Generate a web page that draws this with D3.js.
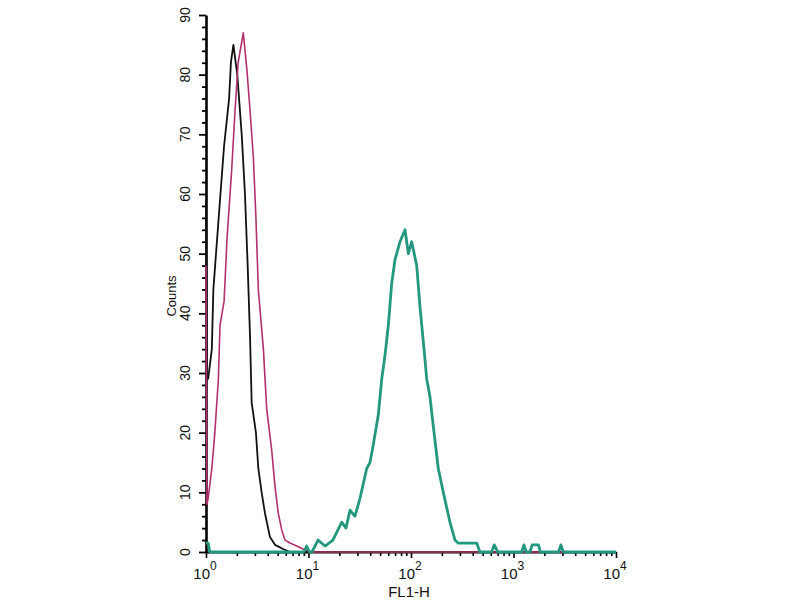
<!DOCTYPE html>
<html>
<head>
<meta charset="utf-8">
<script src="https://cdn.jsdelivr.net/npm/d3@7"></script>
<style>
  body { margin: 0; background: #fff; }
  svg text { font-family: "Liberation Sans", Arial, sans-serif; fill: #111; }
</style>
</head>
<body>
<svg id="chart" width="800" height="600"></svg>
<script>
// FL1-H intensity and counts
var blackX = [1.00, 1.02, 1.05, 1.14, 1.18, 1.24, 1.37, 1.50, 1.68, 1.75, 1.85, 2.02, 2.23, 2.40, 2.55, 2.69, 2.79, 3.07, 3.24, 3.49, 3.76, 4.21, 4.71, 5.64, 6.6, 10000];
var blackY = [59, 29, 29, 34, 44, 49, 59, 68, 76, 82, 85, 80, 70, 60, 48, 36, 25, 20, 14, 10, 6.5, 2.5, 1.2, 0.5, 0, 0];

var magentaX = [1.00, 1.02, 1.05, 1.14, 1.22, 1.32, 1.37, 1.50, 1.61, 1.78, 1.92, 2.06, 2.31, 2.50, 2.69, 2.90, 3.07, 3.24, 3.63, 3.91, 4.38, 4.71, 5.07, 5.48, 5.90, 6.60, 7.67, 8.82, 10.8, 10000];
var magentaY = [48, 8, 9, 14, 20, 29, 38, 42, 53, 64, 74, 82, 87, 81, 74, 66, 56, 44, 34, 24, 17, 11, 6.5, 3.7, 2, 1.5, 1, 0.5, 0, 0];

var tealX = [1.00, 1.05, 1.09, 9.0, 9.6, 10.2, 10.8, 12.4, 14.5, 17.3, 21.1, 23.2, 25.4, 28.4, 31.8, 37.0, 39.8, 42.9, 48.0, 51.8, 55.8, 60.1, 64.8, 69.8, 78.1, 87.4, 94.2, 101.6, 113.7, 122.5, 134.0, 142.3, 153.2, 165.1, 184.7, 206.5, 239.9, 268.5, 287.6, 437.5, 470, 610, 650, 700, 1200, 1265, 1330, 1450, 1520, 1750, 1830, 2750, 2900, 3060, 10000];
var tealY = [1.5, 1.5, 0, 0, 1, 0, 0, 2, 1, 2, 5, 4, 7, 6, 9, 14, 15, 18, 23, 29, 33, 38, 45, 49, 52, 54, 50, 52, 48, 41, 34, 29, 26, 21, 14, 10, 5, 2, 1.5, 1.5, 0, 0, 1.2, 0, 0, 1.2, 0, 0, 1.2, 1.2, 0, 0, 1.2, 0, 0];

var yMajor = [0, 10, 20, 30, 40, 50, 60, 70, 80, 90];
var decades = [0, 1, 2, 3, 4];

var svg = d3.select("#chart");

var x = d3.scaleLog().domain([1, 10000]).range([206, 616]);
var y = d3.scaleLinear().domain([0, 90]).range([552, 15]);

// y ось: мелкие деления через 2, крупные через 10
var yTicks = d3.range(0, 91, 2);
var gy = svg.append("g")
    .attr("transform", "translate(206,0)")
    .call(d3.axisLeft(y).tickValues(yTicks).tickSizeOuter(0).tickFormat(""));
gy.select(".domain").attr("stroke", "#000").attr("stroke-width", 2.6);
gy.selectAll(".tick line")
    .attr("stroke", "#000")
    .attr("stroke-width", 1.8)
    .attr("x2", d => d % 10 === 0 ? -7 : -4);

yMajor.forEach(function(v) {
    svg.append("text")
        .attr("transform", `translate(190, ${y(v)}) rotate(-90)`)
        .attr("text-anchor", "middle")
        .attr("font-size", 14)
        .text(v);
});

svg.append("text")
    .attr("transform", "translate(176, 296) rotate(-90)")
    .attr("text-anchor", "middle")
    .attr("font-size", 13)
    .text("Counts");

// x ось (log)
var xTicks = [];
decades.forEach(function(d) {
    for (var k = 1; k < 10; k++) {
        var v = k * Math.pow(10, d);
        if (v <= 10000) xTicks.push(v);
    }
});
var gx = svg.append("g")
    .attr("transform", "translate(0,552)")
    .call(d3.axisBottom(x).tickValues(xTicks).tickSizeOuter(0).tickFormat(""));
gx.select(".domain").attr("stroke", "#000").attr("stroke-width", 2.2);
gx.selectAll(".tick line")
    .attr("stroke", "#000")
    .attr("stroke-width", 1.6)
    .attr("y2", d => Math.abs(Math.log10(d) % 1) < 1e-9 ? 6 : 4);

decades.forEach(function(d) {
    var t = svg.append("text")
        .attr("x", x(Math.pow(10, d)) - 1)
        .attr("y", 579)
        .attr("text-anchor", "middle")
        .attr("font-size", 15);
    t.append("tspan").text("10");
    t.append("tspan").attr("dy", -9).attr("font-size", 12).text(d);
});

svg.append("text")
    .attr("x", 409)
    .attr("y", 597)
    .attr("text-anchor", "middle")
    .attr("font-size", 15)
    .text("FL1-H");

// гистограммы
var line = d3.line()
    .x(d => x(d[0]))
    .y(d => y(d[1]));

function draw(xs, ys, color, width) {
    svg.append("path")
        .datum(d3.zip(xs, ys))
        .attr("fill", "none")
        .attr("stroke", color)
        .attr("stroke-width", width)
        .attr("stroke-linejoin", "round")
        .attr("d", line);
}

draw(blackX, blackY, "#111", 1.8);
draw(magentaX, magentaY, "#b3306d", 1.6);
draw(tealX, tealY, "#23987f", 2.8);
</script>
</body>
</html>
